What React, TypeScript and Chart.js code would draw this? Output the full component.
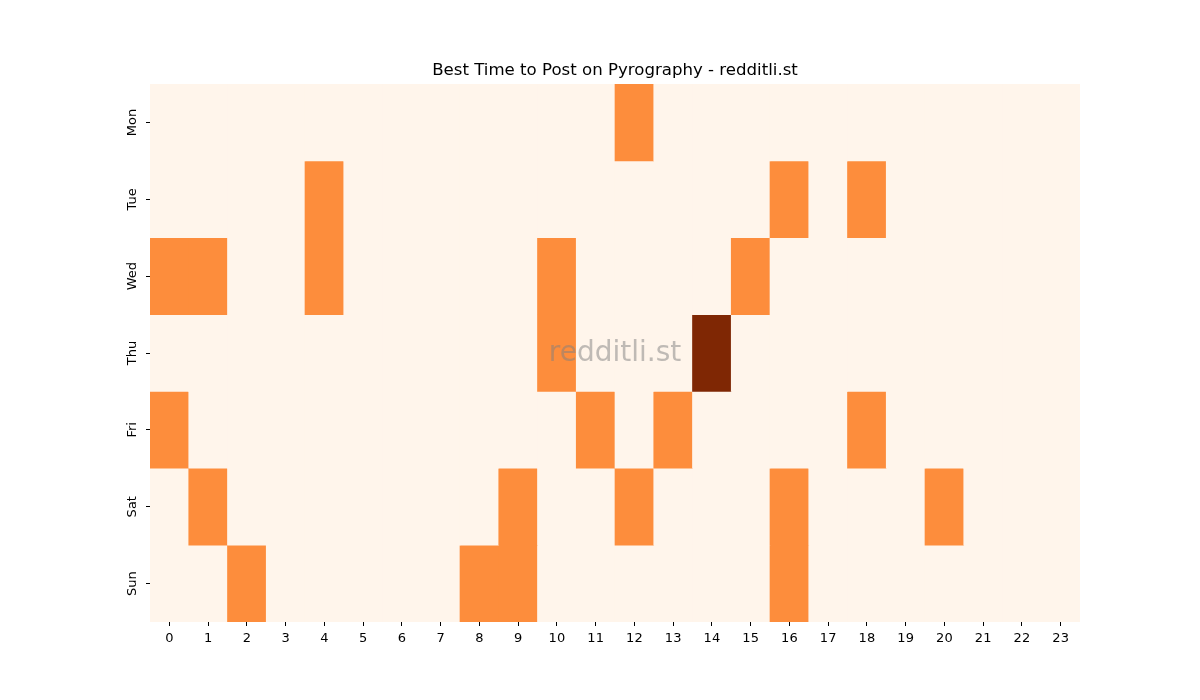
import React, { useEffect, useRef } from "react";
import { Chart, registerables } from "chart.js";

Chart.register(...registerables);

const hours: string[] = Array.from({ length: 24 }, (_, i) => String(i));
const days: string[] = ["Mon", "Tue", "Wed", "Thu", "Fri", "Sat", "Sun"];

// values per day (0 = none, 1 = some, 2 = best)
const mon: number[] = [0,0,0,0,0,0,0,0,0,0,0,0,1,0,0,0,0,0,0,0,0,0,0,0];
const tue: number[] = [0,0,0,0,1,0,0,0,0,0,0,0,0,0,0,0,1,0,1,0,0,0,0,0];
const wed: number[] = [1,1,0,0,1,0,0,0,0,0,1,0,0,0,0,1,0,0,0,0,0,0,0,0];
const thu: number[] = [0,0,0,0,0,0,0,0,0,0,1,0,0,0,2,0,0,0,0,0,0,0,0,0];
const fri: number[] = [1,0,0,0,0,0,0,0,0,0,0,1,0,1,0,0,0,0,1,0,0,0,0,0];
const sat: number[] = [0,1,0,0,0,0,0,0,0,1,0,0,1,0,0,0,1,0,0,0,1,0,0,0];
const sun: number[] = [0,0,1,0,0,0,0,0,1,1,0,0,0,0,0,0,1,0,0,0,0,0,0,0];

const rows: number[][] = [mon, tue, wed, thu, fri, sat, sun];
const palette: string[] = ["#fff5eb", "#fd8d3c", "#7f2704"];

const titleText = "Best Time to Post on Pyrography - redditli.st";
const watermark = "redditli.st";
const FONT = "'DejaVu Sans', sans-serif";

export default function App() {
  const ref = useRef<HTMLCanvasElement | null>(null);

  useEffect(() => {
    if (!ref.current) return;
    const watermarkPlugin = {
      id: "watermark",
      afterDatasetsDraw(chart: any) {
        const { ctx, chartArea } = chart;
        ctx.save();
        ctx.font = `28px ${FONT}`;
        ctx.fillStyle = "rgba(128,128,128,0.5)";
        ctx.textAlign = "center";
        ctx.textBaseline = "middle";
        ctx.fillText(
          watermark,
          (chartArea.left + chartArea.right) / 2,
          (chartArea.top + chartArea.bottom) / 2 + 1
        );
        ctx.restore();
      },
    };

    const chart = new Chart(ref.current, {
      type: "bar",
      data: {
        labels: hours,
        datasets: rows.map((vals, r) => ({
          label: days[r],
          data: vals.map(() => [r, r + 1]) as any,
          backgroundColor: vals.map((v) => palette[v]),
          borderWidth: 0,
          barPercentage: 1,
          categoryPercentage: 1,
          grouped: false,
        })),
      },
      options: {
        animation: false,
        responsive: true,
        maintainAspectRatio: false,
        layout: { padding: { left: 0, right: 120, top: 0, bottom: 0 } },
        plugins: {
          legend: { display: false },
          tooltip: { enabled: false },
          title: {
            display: true,
            fullSize: false,
            text: titleText,
            color: "#000",
            font: { family: FONT, size: 16.6, weight: "normal" },
            padding: { top: 60.5, bottom: 3.6 },
          },
        },
        scales: {
          x: {
            type: "category",
            offset: true,
            border: { display: false },
            grid: {
              display: true,
              offset: false,
              drawOnChartArea: false,
              drawTicks: true,
              tickLength: 4,
              tickColor: "#000",
            },
            ticks: {
              color: "#000",
              font: { family: FONT, size: 13 },
              padding: 5,
              maxRotation: 0,
              minRotation: 0,
              autoSkip: false,
            },
            afterFit(scale: any) {
              scale.height = 78;
            },
          },
          y: {
            type: "linear",
            min: 0,
            max: 7,
            reverse: true,
            border: { display: false },
            grid: {
              display: true,
              drawOnChartArea: false,
              drawTicks: true,
              tickLength: 4,
              tickColor: "#000",
            },
            afterBuildTicks(scale: any) {
              scale.ticks = days.map((_, i) => ({ value: i + 0.5 }));
            },
            ticks: {
              color: "#000",
              font: { family: FONT, size: 13 },
              padding: -1,
              minRotation: 90,
              maxRotation: 90,
              crossAlign: "center",
              autoSkip: false,
              callback: (_v: any, i: number) => days[i],
            },
            afterFit(scale: any) {
              scale.width = 150;
            },
          },
        },
      },
      plugins: [watermarkPlugin],
    } as any);
    return () => chart.destroy();
  }, []);

  return (
    <div style={{ position: "fixed", left: 0, top: 0, width: 1200, height: 700, background: "#fff" }}>
      <canvas ref={ref} />
    </div>
  );
}
